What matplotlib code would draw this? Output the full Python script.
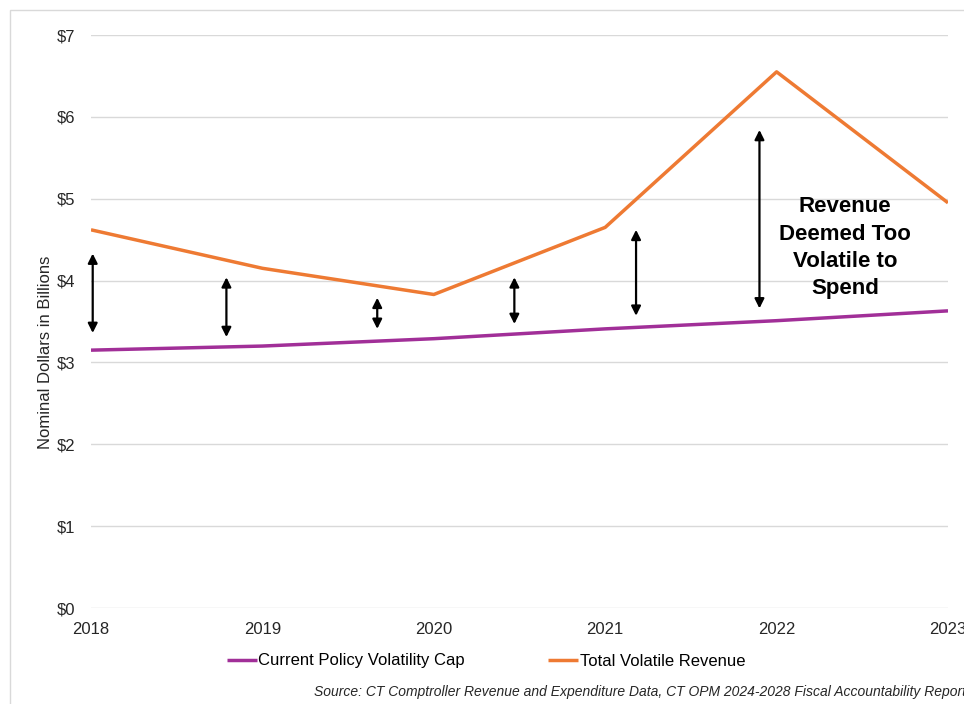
import matplotlib.pyplot as plt
from matplotlib.patches import Rectangle
from matplotlib.ticker import FuncFormatter

plt.rcParams['font.family'] = ['Liberation Sans', 'DejaVu Sans']

years = [2018, 2019, 2020, 2021, 2022, 2023]
volatility_cap = [3.15, 3.20, 3.29, 3.41, 3.51, 3.63]
volatile_revenue = [4.62, 4.15, 3.83, 4.65, 6.55, 4.95]

# double-headed arrows showing the gap
arrow_x = [2018.01, 2018.79, 2019.67, 2020.47, 2021.18, 2021.90]
arrow_top = [4.33, 4.04, 3.79, 4.04, 4.62, 5.84]
arrow_bottom = [3.36, 3.31, 3.41, 3.47, 3.57, 3.66]

purple = '#A12F98'
orange = '#EE7A33'
grid_gray = '#D9D9D9'

fig = plt.figure(figsize=(9.64, 7.04), dpi=100)
fig.patches.append(Rectangle((10 / 964, -0.1), 1.1, 0.1 + 1 - 10 / 704,
                             transform=fig.transFigure, fill=False,
                             edgecolor=grid_gray, linewidth=1))

ax = fig.add_axes([91 / 964, 1 - 608 / 704, 857 / 964, 573 / 704])

ax.plot(years, volatility_cap, color=purple, linewidth=2.5,
        label='Current Policy Volatility Cap', solid_capstyle='butt')
ax.plot(years, volatile_revenue, color=orange, linewidth=2.5,
        label='Total Volatile Revenue', solid_capstyle='butt')

for x, top, bottom in zip(arrow_x, arrow_top, arrow_bottom):
    ax.annotate('', xy=(x, top), xytext=(x, bottom),
                arrowprops=dict(arrowstyle='<|-|>', color='black', lw=1.6,
                                mutation_scale=14, shrinkA=0, shrinkB=0))

ax.text(2022.40, 4.40, 'Revenue\nDeemed Too\nVolatile to\nSpend', ha='center',
        va='center', fontsize=16, fontweight='bold', linespacing=1.4)

ax.set_xlim(2018, 2023)
ax.set_ylim(0, 7)
ax.set_xticks(years)
ax.set_yticks(range(0, 8))
ax.yaxis.set_major_formatter(FuncFormatter(lambda v, p: f'${int(v)}'))
ax.tick_params(axis='both', length=0, labelsize=12, colors='#262626')
ax.tick_params(axis='x', pad=10)
ax.tick_params(axis='y', pad=11)
ax.grid(axis='y', color=grid_gray, linewidth=1)
ax.set_axisbelow(True)
for s in ax.spines.values():
    s.set_visible(False)

ax.set_ylabel('Nominal Dollars in Billions', fontsize=12, color='#262626')
ax.yaxis.set_label_coords(53 / 964, 0.5, transform=fig.transFigure)

ax.legend(loc='center', bbox_to_anchor=(486 / 964, 1 - 661 / 704),
          bbox_transform=fig.transFigure, ncol=2, frameon=False, fontsize=12,
          handlelength=1.8, handletextpad=0.1, columnspacing=5)

fig.text(966 / 964, 1 - 692 / 704,
         'Source: CT Comptroller Revenue and Expenditure Data, CT OPM 2024-2028 Fiscal Accountability Report',
         ha='right', va='center', fontsize=10, style='italic', color='#262626')

fig.savefig('out.png', dpi=100)
